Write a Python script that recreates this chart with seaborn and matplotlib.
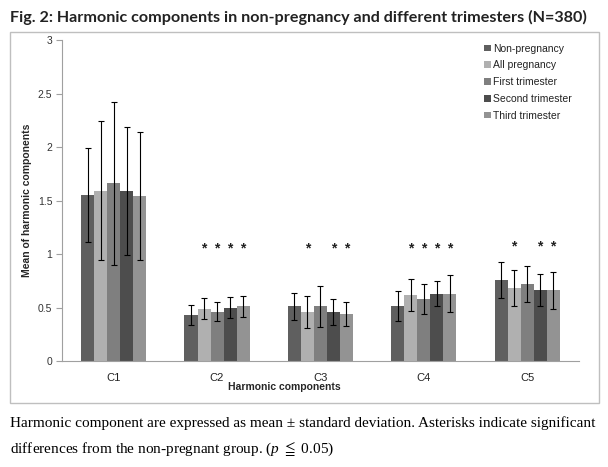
import matplotlib
matplotlib.use("Agg")
import matplotlib.pyplot as plt
from matplotlib.patches import Rectangle
import seaborn as sns
import pandas as pd

components = ["C1", "C2", "C3", "C4", "C5"]
groups = ["Non-pregnancy", "All pregnancy", "First trimester", "Second trimester", "Third trimester"]

# mean per group, one list per group (C1..C5)
means = {
    "Non-pregnancy":    [1.55, 0.43, 0.51, 0.51, 0.76],
    "All pregnancy":    [1.59, 0.49, 0.46, 0.62, 0.68],
    "First trimester":  [1.66, 0.46, 0.51, 0.58, 0.72],
    "Second trimester": [1.59, 0.50, 0.46, 0.63, 0.66],
    "Third trimester":  [1.54, 0.51, 0.44, 0.63, 0.66],
}
sds = {
    "Non-pregnancy":    [0.44, 0.09, 0.13, 0.14, 0.17],
    "All pregnancy":    [0.65, 0.10, 0.15, 0.15, 0.17],
    "First trimester":  [0.76, 0.09, 0.19, 0.14, 0.17],
    "Second trimester": [0.60, 0.10, 0.12, 0.12, 0.15],
    "Third trimester":  [0.60, 0.10, 0.11, 0.17, 0.17],
}
# significance markers (True = asterisk above that bar)
stars = {
    "Non-pregnancy":    [False, False, False, False, False],
    "All pregnancy":    [False, True, True, True, True],
    "First trimester":  [False, True, False, True, False],
    "Second trimester": [False, True, True, True, True],
    "Third trimester":  [False, True, True, True, True],
}
star_y = [1.05, 1.05, 1.05, 1.05, 1.07]
colors = ["#5f5f5f", "#b0b0b0", "#7f7f7f", "#4d4d4d", "#939393"]

rows = []
for g in groups:
    for i, c in enumerate(components):
        rows.append({"component": c, "group": g, "mean": means[g][i]})
df = pd.DataFrame(rows)

sns.set_style("white")
plt.rcParams["font.family"] = ["Liberation Sans", "DejaVu Sans"]
plt.rcParams["mathtext.fontset"] = "custom"
plt.rcParams["mathtext.it"] = "Liberation Serif:italic"
plt.rcParams["mathtext.rm"] = "Liberation Serif"

fig = plt.figure(figsize=(6.08, 4.67), dpi=100)
ax = fig.add_axes([0.102, 0.227, 0.850, 0.687])

sns.barplot(data=df, x="component", y="mean", hue="group", hue_order=groups,
            palette=colors, width=0.63, gap=0, errorbar=None, saturation=1,
            linewidth=0, ax=ax)

# error bars and asterisks at the bar centres seaborn placed
for g, cont in zip(groups, ax.containers):
    for i, bar in enumerate(cont):
        xc = bar.get_x() + bar.get_width() / 2
        ax.errorbar(xc, means[g][i], yerr=sds[g][i], fmt="none", ecolor="black",
                    elinewidth=0.8, capsize=2, capthick=0.8, zorder=3)
        if stars[g][i]:
            ax.text(xc, star_y[i], "*", ha="center", va="center", fontsize=10,
                    fontweight="bold", color="#222222")

ax.set_ylim(0, 3)
ax.set_xlim(-0.5, 4.5)
ax.set_yticks([0, 0.5, 1, 1.5, 2, 2.5, 3])
ax.set_yticklabels(["0", "0.5", "1", "1.5", "2", "2.5", "3"])
ax.tick_params(axis="y", left=True, length=4, width=0.8, color="#a0a0a0",
               labelsize=7.5, labelcolor="#333333", pad=3)
ax.tick_params(axis="x", bottom=False, labelsize=8, labelcolor="#222222", pad=5)
for s in ["top", "right"]:
    ax.spines[s].set_visible(False)
for s in ["left", "bottom"]:
    ax.spines[s].set_color("#a0a0a0")
    ax.spines[s].set_linewidth(0.8)

ax.set_xlabel("Harmonic components", fontsize=7.5, fontweight="bold")
ax.xaxis.set_label_coords(0.43, -0.065)
ax.set_ylabel("Mean of harmonic components", fontsize=7.5, fontweight="bold")
ax.yaxis.set_label_coords(-0.058, 0.5)

leg = ax.legend(loc="upper right", bbox_to_anchor=(1.0, 1.012), frameon=False,
                fontsize=7.5, handlelength=0.6, handleheight=0.6,
                handletextpad=0.2, labelspacing=0.65, borderaxespad=0.3)
for t in leg.get_texts():
    t.set_color("#222222")

# chart frame
fig.patches.append(Rectangle((10 / 608, 1 - 403 / 467), 589 / 608, 371 / 467,
                             transform=fig.transFigure, fill=False,
                             edgecolor="#bfbfbf", linewidth=1))

fig.text(10 / 608, 1 - 17 / 467,
         "Fig. 2: Harmonic components in non-pregnancy and different trimesters (N=380)",
         fontsize=11.6, fontweight="bold", family=["Lato", "DejaVu Sans"],
         color="#222222", va="center")

fig.text(10 / 608, 1 - 423 / 467,
         "Harmonic component are expressed as mean \u00b1 standard deviation. Asterisks indicate significant",
         fontsize=11, family=["Liberation Serif", "DejaVu Serif"], color="black", va="center")
fig.text(10 / 608, 1 - 449 / 467,
         r"differences from the non-pregnant group. ($p$ $\leqq$ 0.05)",
         fontsize=11, family=["Liberation Serif", "DejaVu Serif"], color="black", va="center")

fig.savefig("out.png", dpi=100)
